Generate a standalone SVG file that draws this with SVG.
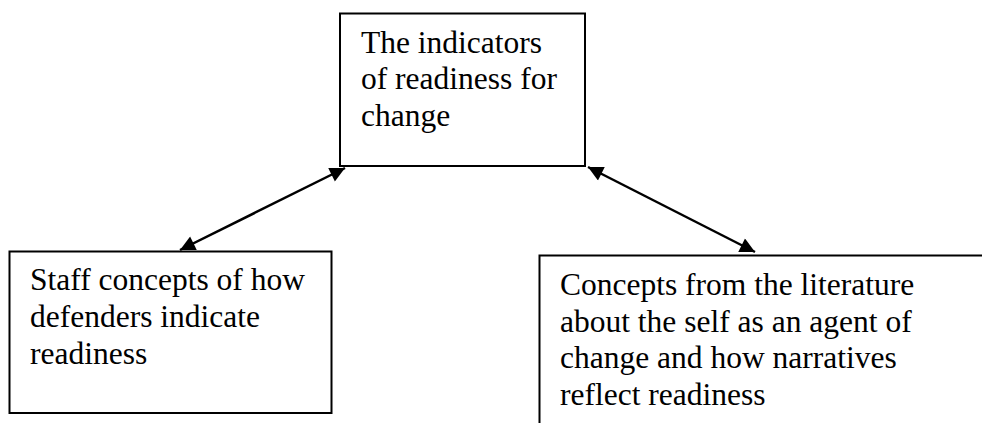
<svg xmlns="http://www.w3.org/2000/svg" width="982" height="423" viewBox="0 0 982 423">
<defs>
<style>
.box{fill:#fff;stroke:#000;stroke-width:2}
.t{font-family:"Liberation Serif","Times New Roman",serif;font-size:31.5px;fill:#000}
.c{stroke:#000;stroke-width:2.5;fill:none;marker-start:url(#ah);marker-end:url(#ah)}
</style>
<marker id="ah" viewBox="0 0 10 10" refX="10" refY="5" markerWidth="7" markerHeight="6" orient="auto-start-reverse" markerUnits="strokeWidth">
<path d="M0,0L10,5L0,10z" fill="#000"/>
</marker>
</defs>
<g id="top">
<rect class="box" x="340" y="13.5" width="245" height="152.5"/>
<text class="t" x="361" y="52.5">The indicators</text>
<text class="t" x="361" y="89">of readiness for</text>
<text class="t" x="361" y="125.5">change</text>
</g>
<g id="left">
<rect class="box" x="9.5" y="251.5" width="322" height="161.5"/>
<text class="t" x="30" y="290">Staff concepts of how</text>
<text class="t" x="30" y="326.5">defenders indicate</text>
<text class="t" x="30" y="363.5">readiness</text>
</g>
<g id="right">
<rect class="box" x="539.5" y="255.5" width="450" height="180"/>
<text class="t" x="560" y="295">Concepts from the literature</text>
<text class="t" x="560" y="331.5">about the self as an agent of</text>
<text class="t" x="560" y="368">change and how narratives</text>
<text class="t" x="560" y="404.5">reflect readiness</text>
</g>
<g id="connectors">
<line class="c" x1="345" y1="168" x2="180" y2="250"/>
<line class="c" x1="588" y1="167" x2="755" y2="252"/>
</g>
</svg>
